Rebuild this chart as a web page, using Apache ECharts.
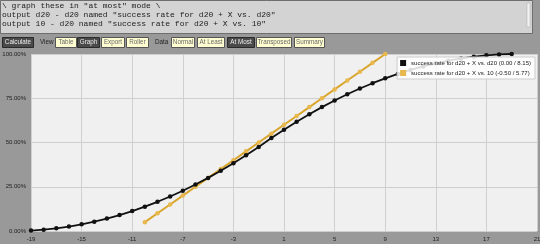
<!DOCTYPE html>
<html><head><meta charset="utf-8">
<script src="https://cdn.jsdelivr.net/npm/echarts@6/dist/echarts.min.js"></script>
<style>html,body{margin:0;padding:0;background:#999;}#c{width:540px;height:244px;}</style>
</head><body><div id="c"></div>
<script>
const codeLines = [
  '\\ graph these in "at most" mode \\',
  'output d20 - d20 named "success rate for d20 + X vs. d20"',
  'output 10 - d20 named "success rate for d20 + X vs. 10"'
];
const seriesNames = [
  'success rate for d20 + X vs. d20 (0.00 / 8.15)',
  'success rate for d20 + X vs. 10 (-0.50 / 5.77)'
];
const xBlack = [-19,-18,-17,-16,-15,-14,-13,-12,-11,-10,-9,-8,-7,-6,-5,-4,-3,-2,-1,0,1,2,3,4,5,6,7,8,9,10,11,12,13,14,15,16,17,18,19];
const yBlack = [0.25,0.75,1.5,2.5,3.75,5.25,7,9,11.25,13.75,16.5,19.5,22.75,26.25,30,34,38.25,42.75,47.5,52.5,57.25,61.75,66,70,73.75,77.25,80.5,83.5,86.25,88.75,91,93,94.75,96.25,97.5,98.5,99.25,99.75,100];
const xOrange = [-10,-9,-8,-7,-6,-5,-4,-3,-2,-1,0,1,2,3,4,5,6,7,8,9];
const yOrange = [5,10,15,20,25,30,35,40,45,50,55,60,65,70,75,80,85,90,95,100];
const xTicks = [-19,-15,-11,-7,-3,1,5,9,13,17,21];
const yTicks = [0,25,50,75,100];
const buttons = [
  {t:'Calculate',x:2,w:31,dark:true},
  {t:'View',x:40,w:0,label:true},
  {t:'Table',x:55,w:21},
  {t:'Graph',x:77,w:22,dark:true},
  {t:'Export',x:101,w:23},
  {t:'Roller',x:126,w:22},
  {t:'Data',x:155,w:0,label:true},
  {t:'Normal',x:171,w:23},
  {t:'At Least',x:197,w:27},
  {t:'At Most',x:227,w:27,dark:true},
  {t:'Transposed',x:256,w:35},
  {t:'Summary',x:294,w:30}
];
const uiFont = '6.3px "Liberation Sans", Arial, sans-serif';

const graphic = [];
graphic.push({type:'rect',shape:{x:0.5,y:0.5,width:532,height:33},style:{fill:'#d3d3d3',stroke:'#6e6e6e',lineWidth:1},z:10});
graphic.push({type:'rect',shape:{x:527,y:3,width:3,height:24},style:{fill:'#f2f2f2',stroke:'#aaa',lineWidth:0.5},z:11});
codeLines.forEach((l,i)=>graphic.push({type:'text',x:2,y:2+i*9,style:{text:l,font:'8px "Liberation Mono", monospace',fill:'#222'},z:11}));
buttons.forEach(b=>{
  if(b.label){
    graphic.push({type:'text',x:b.x,y:39,style:{text:b.t,font:uiFont,fill:'#222'},z:11});
  } else {
    graphic.push({type:'rect',shape:{x:b.x+0.5,y:37.5,width:b.w,height:10},style:{fill:b.dark?'#4a4a4a':'#ffffd2',stroke:b.dark?'#2a2a2a':'#555',lineWidth:1},z:10});
    graphic.push({type:'text',x:b.x+0.5+b.w/2,y:39,style:{text:b.t,font:uiFont,fill:b.dark?'#eee':'#666',align:'center'},z:11});
  }
});

const chart = echarts.init(document.getElementById('c'),null,{renderer:'canvas'});
chart.setOption({
  backgroundColor:'#999',
  animation:false,
  graphic: graphic,
  grid:{left:31,right:3,top:54,bottom:13,show:true,backgroundColor:'#f0f0f0',borderWidth:0,containLabel:false,outerBoundsMode:'none'},
  legend:{
    orient:'vertical',right:5,top:57,
    data:seriesNames,
    icon:'rect',itemWidth:6,itemHeight:6,itemGap:4,
    backgroundColor:'rgba(255,255,255,0.85)',borderColor:'#ccc',borderWidth:1,padding:[3,4,3,3],
    textStyle:{fontSize:6,color:'#222',fontFamily:'Liberation Sans'}
  },
  xAxis:{
    type:'value',min:xTicks[0],max:xTicks[xTicks.length-1],interval:4,
    axisLine:{show:false},axisTick:{show:false},
    splitLine:{show:true,lineStyle:{color:'#cfcfcf',width:1}},
    axisLabel:{fontSize:6,color:'#222',margin:5,fontFamily:'Liberation Sans'}
  },
  yAxis:{
    type:'value',min:yTicks[0],max:yTicks[yTicks.length-1],interval:25,
    axisLine:{show:false},axisTick:{show:false},
    splitLine:{show:true,lineStyle:{color:'#cfcfcf',width:1}},
    axisLabel:{fontSize:6,color:'#222',margin:5,fontFamily:'Liberation Sans',formatter:v=>v.toFixed(2)+'%'}
  },
  series:[
    {name:seriesNames[0],type:'line',data:xBlack.map((x,i)=>[x,yBlack[i]]),
     symbol:'circle',symbolSize:4.5,lineStyle:{color:'#111',width:1.8},itemStyle:{color:'#111'},z:3},
    {name:seriesNames[1],type:'line',data:xOrange.map((x,i)=>[x,yOrange[i]]),
     symbol:'circle',symbolSize:4.5,lineStyle:{color:'#d9a52c',width:2},itemStyle:{color:'#e8b84c'},z:2}
  ]
});
</script></body></html>
